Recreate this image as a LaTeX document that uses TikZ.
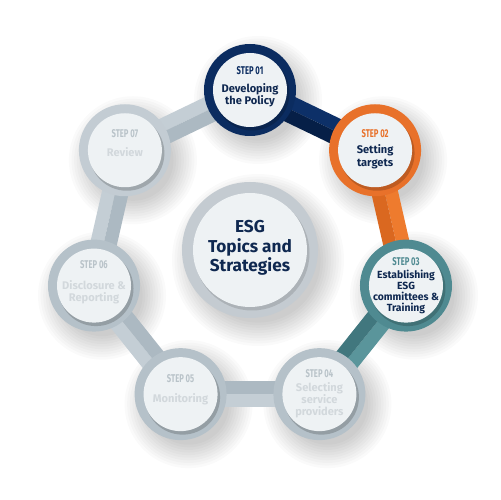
\documentclass[tikz,border=0pt]{standalone}
\usepackage{fontspec}
\setmainfont{Fira Sans}
\usepackage{graphicx}
\usetikzlibrary{calc}
\definecolor{navy}{HTML}{0B2C60}
\definecolor{navyL}{HTML}{0D3068}
\definecolor{navyD}{HTML}{061F47}
\definecolor{orng}{HTML}{E8712A}
\definecolor{orngL}{HTML}{EE7B2E}
\definecolor{orngD}{HTML}{DA6820}
\definecolor{teal}{HTML}{4F8A91}
\definecolor{tealL}{HTML}{5A959B}
\definecolor{tealD}{HTML}{41777E}
\definecolor{gring}{HTML}{B5C1C9}
\definecolor{gringL}{HTML}{C3CCD3}
\definecolor{gbarL}{HTML}{C4CED5}
\definecolor{gbarD}{HTML}{ACB9C2}
\definecolor{cring}{HTML}{C4CBD1}
\definecolor{inner}{HTML}{EEF2F4}
\definecolor{txtdark}{HTML}{0F2850}
\definecolor{txtgrey}{HTML}{D2D8DC}
\definecolor{stepgrey}{HTML}{B9C3C9}
\newcommand\stp[1]{\scalebox{0.68}[1]{STEP #1}}
\newcommand\stepbar[4]{%
  \fill[#3] ($(#1)!0.265cm!90:(#2)$) -- ($(#2)!0.265cm!-90:(#1)$) -- (#2) -- (#1) -- cycle;
  \fill[#4] ($(#1)!0.265cm!-90:(#2)$) -- ($(#2)!0.265cm!90:(#1)$) -- (#2) -- (#1) -- cycle;}
\newcommand\ringshadow[2]{%
  \foreach \k in {1,...,10} {\fill[black,opacity=0.018] ($(#1)+(8,-10)$) circle ({#2-8+2.6*\k});}}
\newcommand\stepring[2]{% centre, ring colour
  \fill[#2] (#1) circle (46);
  \fill[black,opacity=0.18] ($(#1)+(2,-3)$) circle (37.5);
  \fill[inner] (#1) circle (37);}
\tikzset{
  steplbl/.style={font=\fontsize{6.4}{7}\selectfont\bfseries, inner sep=0},
  body/.style={align=center, font=\fontsize{6.3}{6.9}\selectfont\bfseries, inner sep=0},
  bodysmall/.style={align=center, font=\fontsize{5.9}{6.3}\selectfont\bfseries, inner sep=0}
}
\begin{document}
\begin{tikzpicture}[x=0.02cm,y=0.02cm]
\useasboundingbox (-250,-250) rectangle (250,250);
\fill[white] (-250,-250) rectangle (250,250);
% centres
\coordinate (c0) at (0,0);
\coordinate (c1) at (90:160);
\coordinate (c2) at (38.571:160);
\coordinate (c3) at (-12.857:160);
\coordinate (c4) at (-64.286:160);
\coordinate (c5) at (-115.714:160);
\coordinate (c6) at (-167.143:160);
\coordinate (c7) at (141.429:160);
% shadows
\foreach \c in {c1,c2,c3,c4,c5,c6,c7} {\ringshadow{\c}{46}}
\ringshadow{c0}{68}
% bars
\stepbar{c1}{c2}{navyL}{navyD}
\stepbar{c2}{c3}{orngL}{orngD}
\stepbar{c3}{c4}{tealL}{tealD}
\stepbar{c4}{c5}{gbarL}{gbarD}
\stepbar{c5}{c6}{gbarL}{gbarD}
\stepbar{c6}{c7}{gbarL}{gbarD}
\stepbar{c7}{c1}{gbarL}{gbarD}
% rings
\stepring{c1}{navy}
\stepring{c2}{orng}
\stepring{c3}{teal}
\stepring{c4}{gring}
\stepring{c5}{gring}
\stepring{c6}{gring}
\stepring{c7}{gringL}
% centre
\fill[cring] (c0) circle (68);
\fill[black,opacity=0.12] (2,-3) circle (57.5);
\fill[inner] (c0) circle (57);
\node[align=center, inner sep=0, text=txtdark, font=\fontsize{9.8}{11.1}\selectfont\bfseries] (ctext) at (0,2) {ESG\\Topics and\\Strategies};
% labels
\node[steplbl, text=navy] (l1) at ($(c1)+(0,19)$) {\stp{01}};
\node[body, text=txtdark] (t1) at ($(c1)+(0,-5.5)$) {Developing\\the Policy};
\node[steplbl, text=orng] (l2) at ($(c2)+(0,17)$) {\stp{02}};
\node[body, text=txtdark] (t2) at ($(c2)+(0,-6.5)$) {Setting\\targets};
\node[steplbl, text=teal] (l3) at ($(c3)+(0,24)$) {\stp{03}};
\node[bodysmall, text=txtdark] (t3) at ($(c3)+(0,-6.5)$) {Establishing\\ESG\\committees \&\\Training};
\node[steplbl, text=stepgrey] (l4) at ($(c4)+(0,21)$) {\stp{04}};
\node[body, text=txtgrey] (t4) at ($(c4)+(0,-6)$) {Selecting\\service\\providers};
\node[steplbl, text=stepgrey] (l5) at ($(c5)+(0,16)$) {\stp{05}};
\node[body, text=txtgrey] (t5) at ($(c5)+(0,-5)$) {Monitoring};
\node[steplbl, text=stepgrey] (l6) at ($(c6)+(0,21)$) {\stp{06}};
\node[body, text=txtgrey] (t6) at ($(c6)+(0,-6.5)$) {Disclosure \&\\Reporting};
\node[steplbl, text=stepgrey] (l7) at ($(c7)+(0,17)$) {\stp{07}};
\node[body, text=txtgrey] (t7) at ($(c7)+(0,-2)$) {Review};
\end{tikzpicture}
\end{document}
